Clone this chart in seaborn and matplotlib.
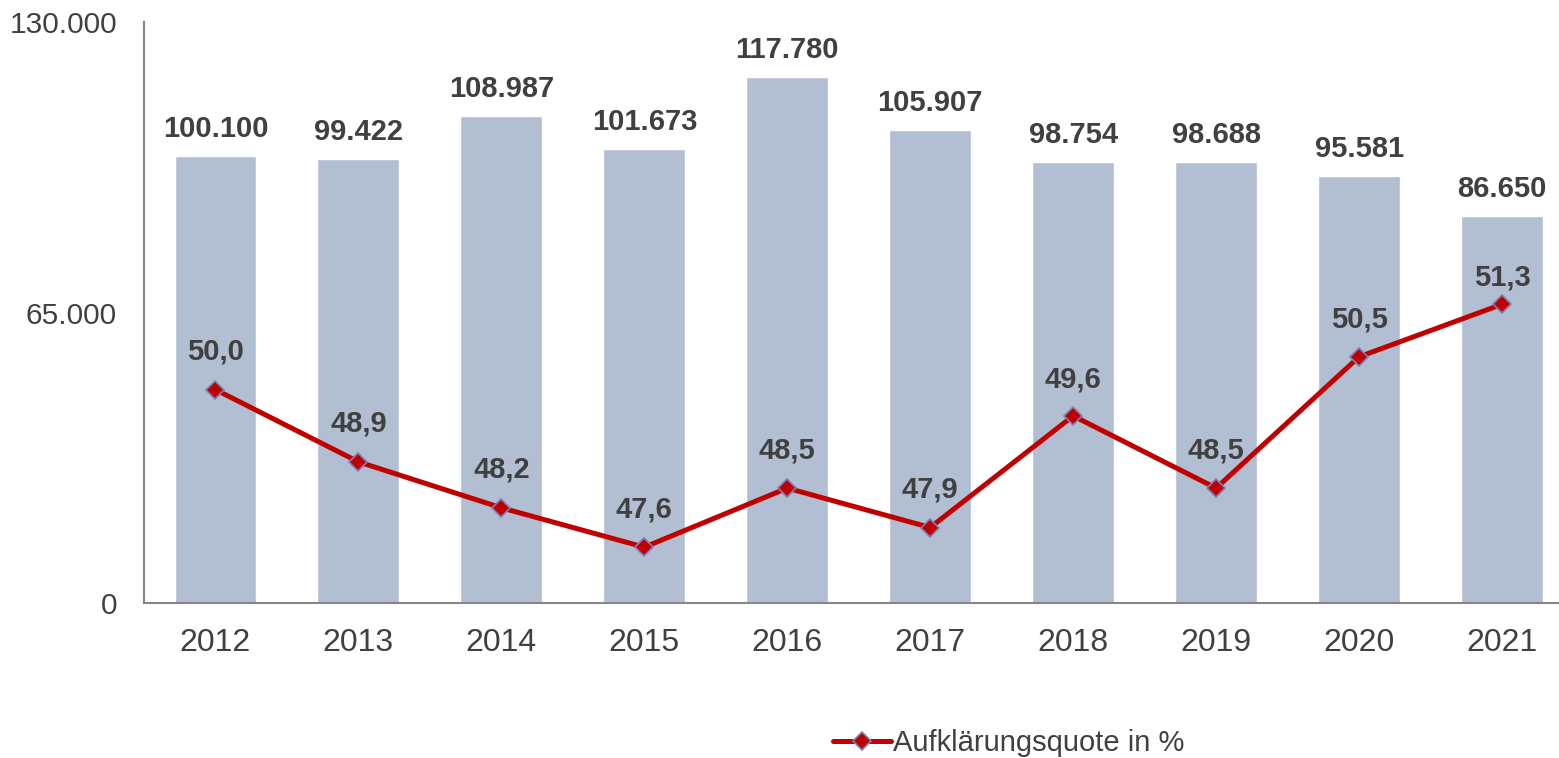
import matplotlib
matplotlib.use("Agg")
import matplotlib.pyplot as plt
import seaborn as sns
import numpy as np
import pandas as pd

sns.set_theme(style="white")
plt.rcParams['font.family'] = ['Liberation Sans', 'DejaVu Sans']

years = ['2012', '2013', '2014', '2015', '2016', '2017', '2018', '2019', '2020', '2021']
cases = [100100, 99422, 108987, 101673, 117780, 105907, 98754, 98688, 95581, 86650]
quote = [50.0, 48.9, 48.2, 47.6, 48.5, 47.9, 49.6, 48.5, 50.5, 51.3]
yticks = [0, 65000, 130000]

TEXT = '#404040'
BAR = '#B2BED1'
RED = '#C00000'
AXIS = '#868686'

df = pd.DataFrame({'year': years, 'cases': cases, 'quote': quote, 'pos': np.arange(len(years))})


def de_int(v):
    return f"{v:,.0f}".replace(',', '.')


def de_dec(v):
    return f"{v:.1f}".replace('.', ',')


fig = plt.figure(figsize=(15.59, 7.58), dpi=100)
ax = fig.add_axes([144 / 1559, 155 / 758, 1429.5 / 1559, 581 / 758])

sns.barplot(data=df, x='year', y='cases', color=BAR, width=0.573, saturation=1, ax=ax)
ax.set_xlim(-0.5, 9.5)
ax.set_ylim(0, 130000)
ax.set_yticks(yticks)
ax.set_yticklabels([de_int(v) for v in yticks])
ax.set_xlabel('')
ax.set_ylabel('')
ax.tick_params(axis='y', length=0, pad=19.5, labelsize=21.5, labelcolor=TEXT)
ax.tick_params(axis='x', length=0, pad=18, labelsize=23, labelcolor=TEXT)
for s in ['top', 'right']:
    ax.spines[s].set_visible(False)
for s in ['left', 'bottom']:
    ax.spines[s].set_color(AXIS)
    ax.spines[s].set_linewidth(1.5)

for i, v in enumerate(cases):
    ax.annotate(de_int(v), (i, v), xytext=(0, 27), textcoords='offset pixels',
                ha='center', va='center', fontsize=21, fontweight='bold', color=TEXT)

ax2 = ax.twinx()
sns.lineplot(data=df, x='pos', y='quote', ax=ax2, color=RED, linewidth=3.6,
             marker='D', markersize=9.5, markerfacecolor=RED,
             markeredgecolor='#8080B8', markeredgewidth=1.2,
             label='Aufklärungsquote in %', legend=False)
ax2.set_ylim(46.75, 55.6)
ax2.set_yticks([])
ax2.set_ylabel('')
ax2.set_xlabel('')
for s in ax2.spines.values():
    s.set_visible(False)
ax.set_xlim(-0.5, 9.5)

# Excel nudged the last label closer to its point
label_offsets = [38, 38, 38, 38, 38, 38, 36, 38, 37, 27]
for i, v in enumerate(quote):
    ax2.annotate(de_dec(v), (i, v), xytext=(0, label_offsets[i]), textcoords='offset pixels',
                 ha='center', va='center', fontsize=21, fontweight='bold', color=TEXT)

handles, labels = ax2.get_legend_handles_labels()
fig.legend(handles, labels, loc='center', bbox_to_anchor=(0.647, 0.02),
           frameon=False, fontsize=21, labelcolor=TEXT, handlelength=2.0,
           handletextpad=0.05)

fig.savefig('out.png', dpi=100)
